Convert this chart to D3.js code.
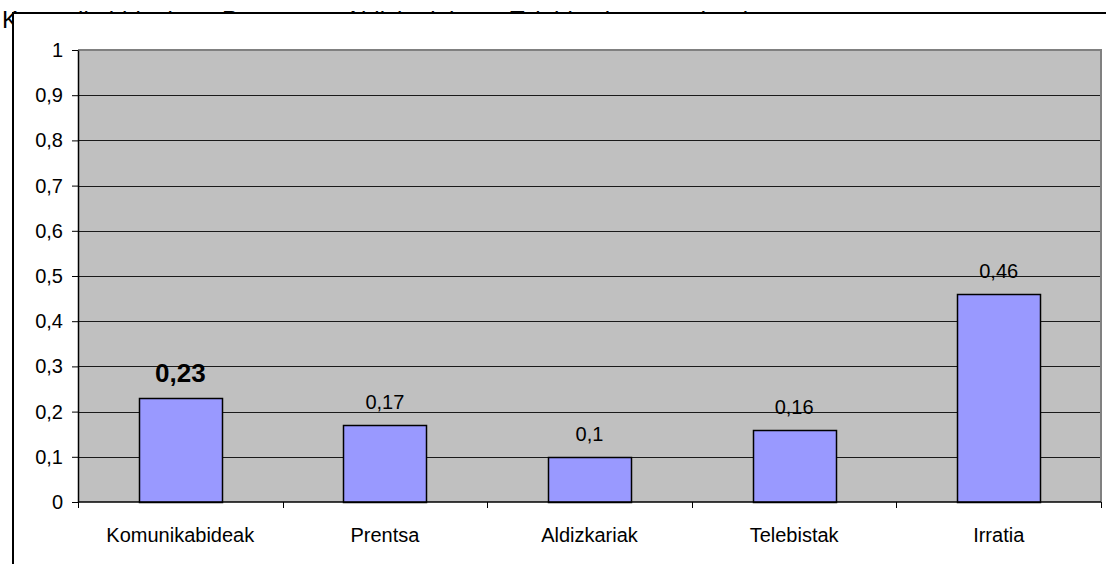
<!DOCTYPE html>
<html>
<head>
<meta charset="utf-8">
<script src="https://cdn.jsdelivr.net/npm/d3@7"></script>
<style>
  html, body { margin: 0; padding: 0; background: #fff; }
  svg { display: block; font-family: "Liberation Sans", Arial, sans-serif; }
</style>
</head>
<body>
<svg id="chart" width="1106" height="564"></svg>
<script>
// Media categories and their values
const categories = ["Komunikabideak", "Prentsa", "Aldizkariak", "Telebistak", "Irratia"];
const values = [0.23, 0.17, 0.1, 0.16, 0.46];
const valueLabels = ["0,23", "0,17", "0,1", "0,16", "0,46"];
const yTicks = [0, 0.1, 0.2, 0.3, 0.4, 0.5, 0.6, 0.7, 0.8, 0.9, 1];
const yTickLabels = ["0", "0,1", "0,2", "0,3", "0,4", "0,5", "0,6", "0,7", "0,8", "0,9", "1"];
// Header row of names sitting behind the chart frame
const headerNames = ["Komunikabideak", "Prentsa", "Aldizkariak", "Telebistak", "Irratia"];
const headerX = [2, 222, 345, 510, 700];

const svg = d3.select("#chart");

const plot = { left: 78, top: 50, right: 1101, bottom: 502 };

// Header text, mostly hidden by the chart frame
svg.append("g").selectAll("text")
  .data(headerNames)
  .join("text")
  .attr("x", (d, i) => headerX[i])
  .attr("y", 28)
  .attr("font-size", 24)
  .attr("fill", "#000")
  .text(d => d);

// Chart frame
svg.append("rect")
  .attr("x", 13).attr("y", 13)
  .attr("width", 1106).attr("height", 564)
  .attr("fill", "#fff")
  .attr("stroke", "#000")
  .attr("stroke-width", 2);

const x = d3.scaleBand()
  .domain(categories)
  .range([plot.left, plot.right])
  .paddingInner(0.595)
  .paddingOuter(0.2975);

const y = d3.scaleLinear()
  .domain([0, 1])
  .range([plot.bottom, plot.top]);

// Plot background
svg.append("rect")
  .attr("x", plot.left).attr("y", plot.top)
  .attr("width", plot.right - plot.left)
  .attr("height", plot.bottom - plot.top)
  .attr("fill", "#c0c0c0");

// Horizontal gridlines
svg.append("g").selectAll("line")
  .data(yTicks.filter(t => t > 0 && t < 1))
  .join("line")
  .attr("x1", plot.left).attr("x2", plot.right)
  .attr("y1", d => Math.round(y(d)) + 0.5)
  .attr("y2", d => Math.round(y(d)) + 0.5)
  .attr("stroke", "#1a1a1a")
  .attr("stroke-width", 1);

// Top and right plot border
svg.append("path")
  .attr("d", `M${plot.left},${plot.top} H${plot.right} V${plot.bottom}`)
  .attr("fill", "none")
  .attr("stroke", "#808080")
  .attr("stroke-width", 2);

// Bars
svg.append("g").selectAll("rect")
  .data(values)
  .join("rect")
  .attr("x", (d, i) => Math.round(x(categories[i])) + 0.5)
  .attr("y", d => Math.round(y(d)) + 0.5)
  .attr("width", Math.round(x.bandwidth()))
  .attr("height", d => Math.round(y(0)) - Math.round(y(d)))
  .attr("fill", "#9999ff")
  .attr("stroke", "#000")
  .attr("stroke-width", 1.5);

// Value labels
svg.append("g").selectAll("text")
  .data(values)
  .join("text")
  .attr("x", (d, i) => x(categories[i]) + x.bandwidth() / 2)
  .attr("y", d => y(d) - 16)
  .attr("text-anchor", "middle")
  .attr("font-size", (d, i) => i === 0 ? 26 : 20)
  .attr("font-weight", (d, i) => i === 0 ? "bold" : "normal")
  .attr("fill", "#000")
  .text((d, i) => valueLabels[i]);

// Y axis
const yAxis = d3.axisLeft(y)
  .tickValues(yTicks)
  .tickFormat((d, i) => yTickLabels[i])
  .tickSizeInner(6)
  .tickSizeOuter(0)
  .tickPadding(9);

const yg = svg.append("g")
  .attr("transform", `translate(${plot.left},0)`)
  .call(yAxis);
yg.attr("font-size", null).attr("font-family", null);
yg.selectAll("text").attr("font-size", 20).attr("fill", "#000");
yg.select(".domain").attr("stroke", "#000").attr("stroke-width", 1.5);
yg.selectAll(".tick line").attr("stroke", "#000");

// X axis with ticks on category boundaries
const boundaries = categories.map(c => x(c) - x.step() * x.paddingInner() / 2);
boundaries.push(plot.right);

svg.append("line")
  .attr("x1", plot.left).attr("x2", plot.right)
  .attr("y1", plot.bottom).attr("y2", plot.bottom)
  .attr("stroke", "#000").attr("stroke-width", 1.5);

svg.append("g").selectAll("line")
  .data(boundaries)
  .join("line")
  .attr("x1", d => Math.round(d) + 0.5).attr("x2", d => Math.round(d) + 0.5)
  .attr("y1", plot.bottom).attr("y2", plot.bottom + 6)
  .attr("stroke", "#000");

svg.append("g").selectAll("text")
  .data(categories)
  .join("text")
  .attr("x", d => x(d) + x.bandwidth() / 2)
  .attr("y", 542)
  .attr("text-anchor", "middle")
  .attr("font-size", 20)
  .attr("fill", "#000")
  .text(d => d);
</script>
</body>
</html>
